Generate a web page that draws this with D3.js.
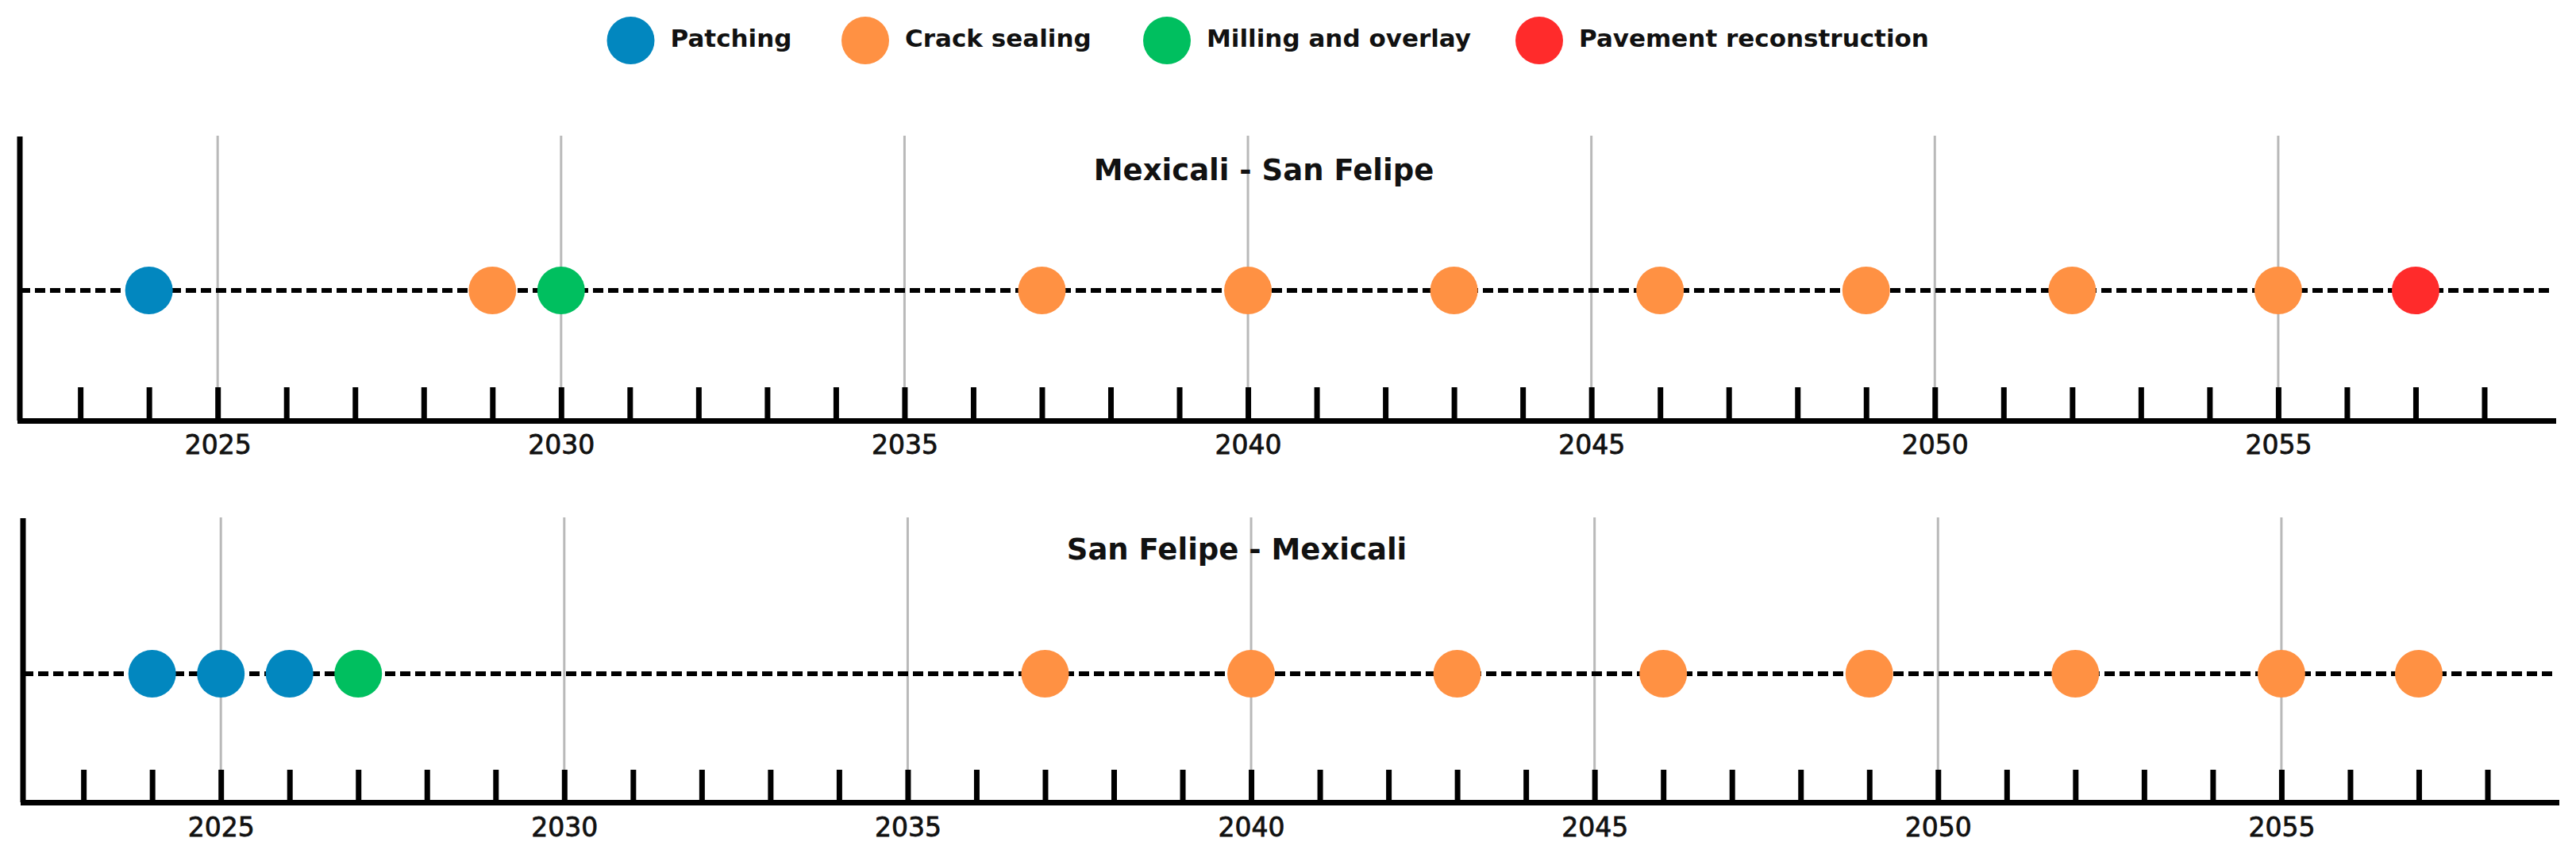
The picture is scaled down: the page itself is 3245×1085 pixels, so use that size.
<!DOCTYPE html>
<html>
<head>
<meta charset="utf-8">
<script src="https://cdn.jsdelivr.net/npm/d3@7"></script>
<style>
  html, body { margin: 0; padding: 0; background: #ffffff; }
  svg { display: block; }
  text { font-family: "DejaVu Sans", sans-serif; fill: #111; }
</style>
</head>
<body>
<svg id="chart" width="3245" height="1085"></svg>
<script>
// ---------------- DATA ----------------
const categories = ["Patching", "Crack sealing", "Milling and overlay", "Pavement reconstruction"];
const categoryColors = ["#0287bf", "#ff9143", "#00bf5f", "#ff2b2b"];

const panelTitles = ["Mexicali - San Felipe", "San Felipe - Mexicali"];

// Mexicali - San Felipe
const mxsfPatching = [2024];
const mxsfCrackSealing = [2029, 2037, 2040, 2043, 2046, 2049, 2052, 2055];
const mxsfMilling = [2030];
const mxsfReconstruction = [2057];

// San Felipe - Mexicali
const sfmxPatching = [2024, 2025, 2026];
const sfmxCrackSealing = [2037, 2040, 2043, 2046, 2049, 2052, 2055, 2057];
const sfmxMilling = [2027];
const sfmxReconstruction = [];

const tickYears = [2023, 2024, 2025, 2026, 2027, 2028, 2029, 2030, 2031, 2032, 2033, 2034, 2035,
  2036, 2037, 2038, 2039, 2040, 2041, 2042, 2043, 2044, 2045, 2046, 2047, 2048, 2049, 2050,
  2051, 2052, 2053, 2054, 2055, 2056, 2057, 2058];
const labelYears = [2025, 2030, 2035, 2040, 2045, 2050, 2055];
const yearDomain = [2022.12, 2059.0];

// ---------------- LAYOUT ----------------
const panelData = [
  [mxsfPatching, mxsfCrackSealing, mxsfMilling, mxsfReconstruction],
  [sfmxPatching, sfmxCrackSealing, sfmxMilling, sfmxReconstruction]
];
const layout = [
  { x0: 25, x1: 3216, top: 172, gridTop: 171, lineY: 366, axisY: 530, titleX: 1592, titleY: 227, tick: 42, pad: 19 },
  { x0: 29, x1: 3220, top: 653, gridTop: 652, lineY: 849, axisY: 1011, titleX: 1558, titleY: 705, tick: 41, pad: 20 }
];

const svg = d3.select("#chart");

// ---------------- LEGEND ----------------
const legendX = [794.5, 1090, 1470, 1939];
const legend = svg.append("g").attr("class", "legend");
categories.forEach((c, i) => {
  legend.append("circle")
    .attr("cx", legendX[i]).attr("cy", 51).attr("r", 30)
    .attr("fill", categoryColors[i]);
  legend.append("text")
    .attr("x", legendX[i] + 50).attr("y", 59)
    .attr("font-size", 31).attr("font-weight", "bold")
    .text(c);
});

// ---------------- PANELS ----------------
layout.forEach((L, p) => {
  const g = svg.append("g").attr("class", "panel");
  const x = d3.scaleLinear().domain(yearDomain).range([L.x0, L.x1]);

  // gridlines
  g.append("g").selectAll("line").data(labelYears).join("line")
    .attr("x1", d => x(d)).attr("x2", d => x(d))
    .attr("y1", L.gridTop).attr("y2", L.axisY)
    .attr("stroke", "#b9b9b9").attr("stroke-width", 3);

  // title
  g.append("text")
    .attr("x", L.titleX).attr("y", L.titleY)
    .attr("text-anchor", "middle")
    .attr("font-size", 37).attr("font-weight", "bold")
    .text(panelTitles[p]);

  // dashed baseline
  g.append("line")
    .attr("x1", x(yearDomain[0])).attr("x2", x(yearDomain[1]))
    .attr("y1", L.lineY).attr("y2", L.lineY)
    .attr("stroke", "#000").attr("stroke-width", 6)
    .attr("stroke-dasharray", "13,6");

  // bottom axis
  const axis = d3.axisBottom(x)
    .tickValues(tickYears)
    .tickSizeInner(-L.tick)
    .tickSizeOuter(0)
    .tickPadding(L.pad)
    .tickFormat(d => labelYears.includes(d) ? String(d) : "");
  const ax = g.append("g").attr("transform", `translate(0,${L.axisY})`).call(axis);
  ax.select(".domain").attr("stroke", "#000").attr("stroke-width", 7).attr("stroke-linecap", "square");
  ax.selectAll(".tick line").attr("stroke", "#000").attr("stroke-width", 7);
  ax.selectAll(".tick text")
    .attr("font-family", "DejaVu Sans, sans-serif")
    .attr("font-size", 33).attr("font-weight", "normal").attr("fill", "#111")
    .attr("stroke", "#111").attr("stroke-width", 0.8);

  // left vertical axis
  g.append("line")
    .attr("x1", x(yearDomain[0])).attr("x2", x(yearDomain[0]))
    .attr("y1", L.top).attr("y2", L.axisY)
    .attr("stroke", "#000").attr("stroke-width", 7);

  // events
  const events = [];
  panelData[p].forEach((arr, ci) => arr.forEach(y => events.push({ year: y, cat: ci })));
  g.append("g").selectAll("circle").data(events).join("circle")
    .attr("cx", d => x(d.year)).attr("cy", L.lineY).attr("r", 30)
    .attr("fill", d => categoryColors[d.cat]);
});
</script>
</body>
</html>
